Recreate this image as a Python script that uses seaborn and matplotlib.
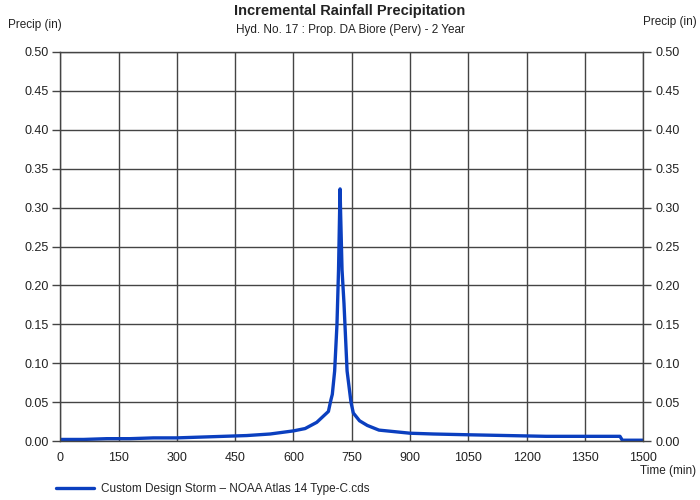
import numpy as np
import pandas as pd
import matplotlib
matplotlib.use("Agg")
import matplotlib.pyplot as plt
import seaborn as sns

# Valores (tempo em minutos, precipitação incremental em polegadas)
time_min = [0, 60, 120, 180, 240, 300, 360, 420, 480, 540, 600, 630, 660, 690,
            696, 700, 706, 712, 716, 719, 720, 721, 725, 730, 738, 748, 754,
            770, 790, 820, 860, 900, 960, 1050, 1150, 1250, 1350, 1440, 1446, 1500]
precip_in = [0.002, 0.002, 0.003, 0.003, 0.004, 0.004, 0.005, 0.006, 0.007, 0.009,
             0.013, 0.016, 0.024, 0.038, 0.052, 0.060, 0.090, 0.150, 0.220, 0.300,
             0.324, 0.300, 0.220, 0.177, 0.090, 0.050, 0.036, 0.026, 0.020, 0.014,
             0.012, 0.010, 0.009, 0.008, 0.007, 0.006, 0.006, 0.006, 0.001, 0.001]

x_ticks = [0, 150, 300, 450, 600, 750, 900, 1050, 1200, 1350, 1500]
y_ticks = [0.00, 0.05, 0.10, 0.15, 0.20, 0.25, 0.30, 0.35, 0.40, 0.45, 0.50]

title = "Incremental Rainfall Precipitation"
subtitle = "Hyd. No. 17 : Prop. DA Biore (Perv) - 2 Year"
legend_label = "Custom Design Storm \u2013 NOAA Atlas 14 Type-C.cds"

df = pd.DataFrame({"Tempo": time_min, "Precip": precip_in})

sns.set_style("white")
plt.rcParams['font.family'] = ['Liberation Sans', 'DejaVu Sans']

fig = plt.figure(figsize=(7, 5), dpi=100)
ax = fig.add_axes([0.086, 0.118, 0.833, 0.778])

sns.lineplot(data=df, x="Tempo", y="Precip", ax=ax, color="#0b3fbf", linewidth=2.4,
             label=legend_label, legend=False)

ax.set_xlim(0, 1500)
ax.set_ylim(0, 0.5)
ax.set_xticks(x_ticks)
ax.set_yticks(y_ticks)
ax.set_yticklabels([f"{v:.2f}" for v in y_ticks], fontsize=9, color="#222222")
ax.set_xticklabels([str(v) for v in x_ticks], fontsize=9, color="#222222")
ax.grid(True, color="#444444", linewidth=1.0)
ax.tick_params(axis="both", length=6, width=1, color="#444444", direction="out", pad=2)
ax.set_xlabel("")
ax.set_ylabel("")
for s in ax.spines.values():
    s.set_color("#444444")
    s.set_linewidth(1.0)

# Eixo Y à direita com os mesmos rótulos
ax2 = ax.twinx()
ax2.set_ylim(0, 0.5)
ax2.set_yticks(y_ticks)
ax2.set_yticklabels([f"{v:.2f}" for v in y_ticks], fontsize=9, color="#222222")
ax2.tick_params(axis="y", length=6, width=1, color="#444444", direction="out", pad=3)
for s in ax2.spines.values():
    s.set_visible(False)

# Títulos e rótulos
fig.text(0.50, 0.978, title, ha="center", va="center", fontsize=10.5, fontweight="bold", color="#222222")
fig.text(0.50, 0.940, subtitle, ha="center", va="center", fontsize=8.5, color="#222222")
fig.text(0.012, 0.950, "Precip (in)", ha="left", va="center", fontsize=8.5, color="#222222")
fig.text(0.995, 0.955, "Precip (in)", ha="right", va="center", fontsize=8.5, color="#222222")
fig.text(0.995, 0.058, "Time (min)", ha="right", va="center", fontsize=8.5, color="#222222")

# Legenda na parte inferior
handles, labels = ax.get_legend_handles_labels()
fig.legend(handles, labels, loc="lower left", bbox_to_anchor=(0.065, -0.012), frameon=False,
           fontsize=8.5, handlelength=3.2, handletextpad=0.6)

fig.savefig("out.png", dpi=100, facecolor="white")
